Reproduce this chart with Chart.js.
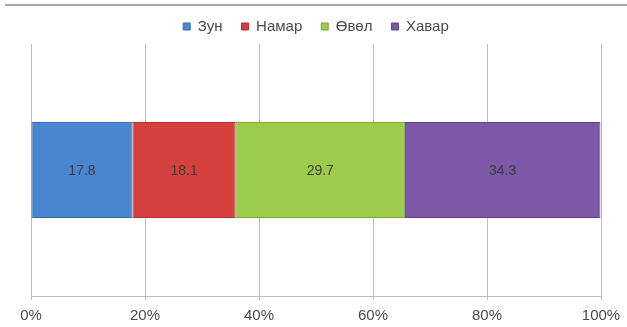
<!DOCTYPE html>
<html>
<head>
<meta charset="utf-8">
<script src="https://cdn.jsdelivr.net/npm/chart.js@4"></script>
<style>
  html, body { margin: 0; padding: 0; background: #ffffff; }
  #wrap { position: relative; width: 627px; height: 327px; }
</style>
</head>
<body>
<div id="wrap"><canvas id="c"></canvas></div>
<script>
// Season shares (%), one stacked 100% bar
const categories = [''];
const seasons = ['Зун', 'Намар', 'Өвөл', 'Хавар'];
const shares = [17.8, 18.1, 29.7, 34.3];
const tickValues = [0, 20, 40, 60, 80, 100];

const fills = ['#4a86d0', '#d6403d', '#9dcb4b', '#7d58a8'];
const edges = ['#3b6cad', '#aa3331', '#7ea63b', '#5f4385'];

const FONT = "'Liberation Sans', Arial, sans-serif";

// frame line across the top
const framePlugin = {
  id: 'frame',
  beforeDraw(chart) {
    const ctx = chart.ctx;
    ctx.save();
    ctx.strokeStyle = '#a8a8a8';
    ctx.lineWidth = 2;
    ctx.beginPath();
    ctx.moveTo(5, 5);
    ctx.lineTo(chart.width, 5);
    ctx.stroke();
    ctx.restore();
  }
};

// value labels centred in each segment
const valueLabels = {
  id: 'valueLabels',
  afterDatasetsDraw(chart) {
    const ctx = chart.ctx;
    ctx.save();
    ctx.font = '14px ' + FONT;
    ctx.fillStyle = '#3c3c3c';
    ctx.textAlign = 'center';
    ctx.textBaseline = 'middle';
    chart.data.datasets.forEach((ds, i) => {
      const meta = chart.getDatasetMeta(i);
      meta.data.forEach((bar, j) => {
        const p = bar.getCenterPoint();
        ctx.fillText(ds.data[j].toFixed(1), p.x, p.y + 1);
      });
    });
    ctx.restore();
  }
};

const datasets = seasons.map((name, i) => ({
  label: name,
  data: [shares[i]],
  backgroundColor: fills[i],
  borderColor: edges[i],
  borderWidth: 1,
  borderSkipped: false,
  barPercentage: 0.38,
  categoryPercentage: 1.0
}));

new Chart(document.getElementById('c'), {
  type: 'bar',
  data: { labels: categories, datasets },
  plugins: [framePlugin, valueLabels],
  options: {
    indexAxis: 'y',
    responsive: true,
    maintainAspectRatio: false,
    animation: false,
    layout: { padding: { left: 31, right: 26, top: 0, bottom: -4 } },
    plugins: {
      legend: {
        position: 'top',
        labels: {
          boxWidth: 7,
          boxHeight: 7,
          padding: 19,
          color: '#4a4a4a',
          font: { family: FONT, size: 15 }
        }
      },
      tooltip: { enabled: false }
    },
    scales: {
      x: {
        stacked: true,
        min: 0,
        max: 100,
        afterBuildTicks(scale) {
          scale.ticks = tickValues.map(v => ({ value: v }));
        },
        afterFit(scale) {
          // end labels may overhang the plot; side margins come from layout padding
          scale.paddingLeft = 0;
          scale.paddingRight = 0;
        },
        ticks: {
          color: '#4a4a4a',
          padding: 8,
          font: { family: FONT, size: 15, lineHeight: 1 },
          callback: (v) => v + '%'
        },
        grid: {
          color: '#bdbdbd',
          lineWidth: 1,
          tickLength: 4,
          drawOnChartArea: true
        },
        border: { color: '#bdbdbd', width: 1 }
      },
      y: {
        stacked: true,
        display: false
      }
    }
  }
});
</script>
</body>
</html>
